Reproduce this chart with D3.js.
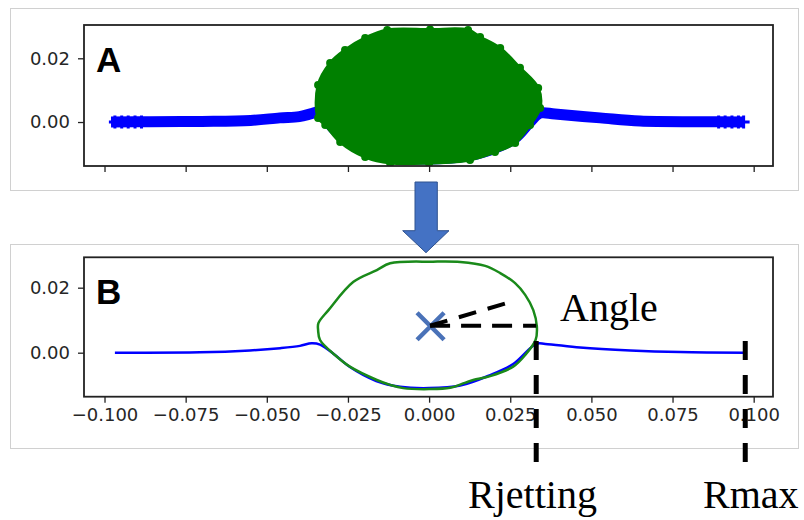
<!DOCTYPE html>
<html><head><meta charset="utf-8">
<script src="https://cdn.jsdelivr.net/npm/d3@7/dist/d3.min.js"></script>
<style>body{margin:0;background:#fff}svg{display:block}</style>
</head><body>
<script>
// ---- data ----
const xTicks = [-0.1, -0.075, -0.05, -0.025, 0, 0.025, 0.05, 0.075, 0.1];
const yTicks = [0, 0.02];
// panel A: interface (blue "+" markers) and bubble (green circles)
const surfaceAx = [-0.098,-0.086,-0.07,-0.055,-0.046,-0.04,-0.036,-0.034,-0.029,-0.0244,-0.0151,-0.0089,0,0.0096,0.0188,0.0265,0.0311,0.0342,0.0388,0.0527,0.065,0.0835,0.0968];
const surfaceAy = [0,0.0001,0.0002,0.0005,0.0013,0.0017,0.0027,0.0031,-0.0025,-0.006,-0.0094,-0.0113,-0.0116,-0.011,-0.0088,-0.005,0,0.0028,0.0025,0.0013,0.0003,0.0001,0];
const tailPlusX = [-0.0968,-0.0947,-0.0927,-0.0906,-0.0886,0.0892,0.0912,0.0933,0.0953,0.0969];
const bubbleAx = [-0.0342,-0.0342,-0.0305,-0.0259,-0.0197,-0.0129,0.0003,0.012,0.0157,0.0219,0.028,0.0336,0.0342,0.0311,0.0265,0.0203,0.0126,0,-0.012,-0.0197,-0.0274,-0.032];
const bubbleAy = [0.0013,0.0116,0.0185,0.0226,0.0264,0.0289,0.029,0.0289,0.0267,0.0232,0.017,0.0107,0.0044,-0.0009,-0.0066,-0.0094,-0.0119,-0.0129,-0.0129,-0.011,-0.0063,-0.0009];
// panel B: interface line (blue) and bubble contour (green)
const surfaceBx = [-0.0968,-0.0706,-0.0552,-0.0459,-0.0398,-0.0362,-0.0336,-0.029,-0.0244,-0.0163,-0.0089,0,0.0096,0.0188,0.0259,0.033,0.0358,0.0465,0.062,0.0774,0.0974];
const surfaceBy = [0,0.0001,0.0007,0.0014,0.0021,0.0029,0.0025,-0.0007,-0.0044,-0.0087,-0.0105,-0.0109,-0.0101,-0.0069,-0.0035,0.0027,0.0027,0.0016,0.0007,0.0002,0];
const bubbleBx = [-0.0341,-0.031,-0.0233,-0.0161,-0.012,0.0012,0.0096,0.0173,0.0219,0.0265,0.0296,0.0321,0.0332,0.0328,0.0296,0.0259,0.0188,0.0136,0.011,0.0065,0,-0.008,-0.012,-0.0161,-0.0244,-0.029,-0.0336,-0.0342];
const bubbleBy = [0.0091,0.0131,0.0218,0.0254,0.0275,0.028,0.0279,0.0267,0.0245,0.0214,0.0178,0.0131,0.008,0.0039,-0.0007,-0.0043,-0.0072,-0.0084,-0.0093,-0.0108,-0.0112,-0.0109,-0.0099,-0.0084,-0.0043,-0.0007,0.0039,0.007];
// annotations
const centre = [0.0003, 0.0083];
const angleEnd = [0.0244, 0.0154];
const rJetting = 0.033, rJettingY = 0.0036;
const rMax = 0.0974, rMaxY = 0.0036;
const labels = {angle: "Angle", rj: "Rjetting", rm: "Rmax", a: "A", b: "B"};

// ---- drawing ----
const W = 804, H = 520;
const svg = d3.select("body").append("svg").attr("width", W).attr("height", H);
const tickFont = "'DejaVu Sans', sans-serif";

function panel(frame, box, yDomain, showXLabels, letter) {
  svg.append("rect").attr("x", frame[0]+0.5).attr("y", frame[1]+0.5)
     .attr("width", frame[2]-frame[0]).attr("height", frame[3]-frame[1])
     .attr("fill", "#fff").attr("stroke", "#d0d0d0").attr("stroke-width", 1);
  const x = d3.scaleLinear().domain([-0.10632, 0.10595]).range([box[0], box[2]]);
  const y = d3.scaleLinear().domain(yDomain).range([box[3], box[1]]);
  const g = svg.append("g");
  const clipId = "clip" + letter;
  svg.append("clipPath").attr("id", clipId).append("rect")
     .attr("x", box[0]).attr("y", box[1]).attr("width", box[2]-box[0]).attr("height", box[3]-box[1]);
  const plot = g.append("g").attr("clip-path", `url(#${clipId})`);
  // axes
  const xa = g.append("g").attr("transform", `translate(0,${box[3]})`)
     .call(d3.axisBottom(x).tickValues(xTicks).tickSize(6).tickPadding(6)
       .tickFormat(showXLabels ? d3.format(".3f") : () => ""));
  const ya = g.append("g").attr("transform", `translate(${box[0]},0)`)
     .call(d3.axisLeft(y).tickValues(yTicks).tickSize(6).tickPadding(8).tickFormat(d3.format(".2f")));
  [xa, ya].forEach(a => {
    a.select(".domain").remove();
    a.selectAll("line").attr("stroke", "#222").attr("stroke-width", 1.3);
    a.selectAll("text").attr("font-family", tickFont).attr("font-size", 18).attr("fill", "#262626");
  });
  const frameG = g.append("rect").attr("x", box[0]).attr("y", box[1])
     .attr("width", box[2]-box[0]).attr("height", box[3]-box[1])
     .attr("fill", "none").attr("stroke", "#222").attr("stroke-width", 1.8);
  g.append("text").attr("x", box[0]+12).attr("y", box[1] + 47).text(letter)
   .attr("font-family", "'Liberation Sans', Arial, sans-serif").attr("font-weight", "bold")
   .attr("font-size", 35).attr("fill", "#000");
  return {x, y, plot, g};
}

// Panel A
const A = panel([10, 8, 798, 190], [84, 25, 773, 166], [-0.0138, 0.03045], false, labels.a);
const surfA = surfaceAx.map((v, i) => [v, surfaceAy[i]]);
A.plot.append("path").datum(surfA)
  .attr("d", d3.line().x(d => A.x(d[0])).y(d => A.y(d[1])).curve(d3.curveCatmullRom))
  .attr("fill", "none").attr("stroke", "#0000ff").attr("stroke-width", 11);
A.plot.selectAll("path.plus").data(tailPlusX).join("path").attr("class", "plus")
  .attr("d", d => { const px = A.x(d), py = A.y(0); return `M${px-6},${py}H${px+6}M${px},${py-6.5}V${py+6.5}`; })
  .attr("stroke", "#0000ff").attr("stroke-width", 3).attr("fill", "none");
const bubA = bubbleAx.map((v, i) => [v, bubbleAy[i]]);
A.plot.append("path").datum(bubA)
  .attr("d", d3.line().x(d => A.x(d[0])).y(d => A.y(d[1])).curve(d3.curveCatmullRomClosed))
  .attr("fill", "#008000").attr("stroke", "#008000").attr("stroke-width", 3).attr("stroke-linejoin", "round");
A.plot.selectAll("circle.edge").data(bubA).join("circle").attr("class", "edge")
  .attr("cx", d => A.x(d[0])).attr("cy", d => A.y(d[1])).attr("r", 4)
  .attr("fill", "#008000");

// Panel B
const B = panel([10, 244, 798, 448], [84, 257.3, 773, 396.7], [-0.01354, 0.02935], true, labels.b);
const surfB = surfaceBx.map((v, i) => [v, surfaceBy[i]]);
B.plot.append("path").datum(surfB)
  .attr("d", d3.line().x(d => B.x(d[0])).y(d => B.y(d[1])).curve(d3.curveCatmullRom))
  .attr("fill", "none").attr("stroke", "#0000ff").attr("stroke-width", 2.5);
const bubB = bubbleBx.map((v, i) => [v, bubbleBy[i]]);
B.plot.append("path").datum(bubB)
  .attr("d", d3.line().x(d => B.x(d[0])).y(d => B.y(d[1])).curve(d3.curveCatmullRomClosed))
  .attr("fill", "none").attr("stroke", "#1a8a1a").attr("stroke-width", 2.5);

// centre marker
const cx = B.x(centre[0]), cy = B.y(centre[1]);
svg.append("path").attr("d", `M${cx-13},${cy-13}L${cx+14},${cy+14}M${cx-13},${cy+14}L${cx+14},${cy-13}`)
  .attr("stroke", "#4a72b8").attr("stroke-width", 4.5).attr("fill", "none");
// angle dashed lines
svg.append("line").attr("x1", cx).attr("y1", cy).attr("x2", B.x(rJetting)).attr("y2", cy)
  .attr("stroke", "#000").attr("stroke-width", 4).attr("stroke-dasharray", "20,11");
svg.append("line").attr("x1", cx).attr("y1", cy).attr("x2", B.x(angleEnd[0])).attr("y2", B.y(angleEnd[1]))
  .attr("stroke", "#000").attr("stroke-width", 4).attr("stroke-dasharray", "18,12");
// vertical dashed lines
[[rJetting, rJettingY], [rMax, rMaxY]].forEach(([v, yy]) => {
  svg.append("line").attr("x1", B.x(v)).attr("x2", B.x(v)).attr("y1", B.y(yy)).attr("y2", 462)
    .attr("stroke", "#000").attr("stroke-width", 5).attr("stroke-dasharray", "19,15");
});
// arrow
svg.append("path").attr("d", "M415,182H437.3V230.7H449L426,252.7L402.7,230.7H415Z")
  .attr("fill", "#4472c4").attr("stroke", "#2f528f").attr("stroke-width", 1);
// serif labels
const serif = "'Liberation Serif', 'Times New Roman', serif";
svg.append("text").attr("x", 560).attr("y", 321).text(labels.angle)
  .attr("font-family", serif).attr("font-size", 40).attr("fill", "#000");
svg.append("text").attr("x", 468).attr("y", 508).text(labels.rj)
  .attr("font-family", serif).attr("font-size", 40).attr("fill", "#000");
svg.append("text").attr("x", 703).attr("y", 508).text(labels.rm)
  .attr("font-family", serif).attr("font-size", 40).attr("fill", "#000");
</script>
</body></html>
